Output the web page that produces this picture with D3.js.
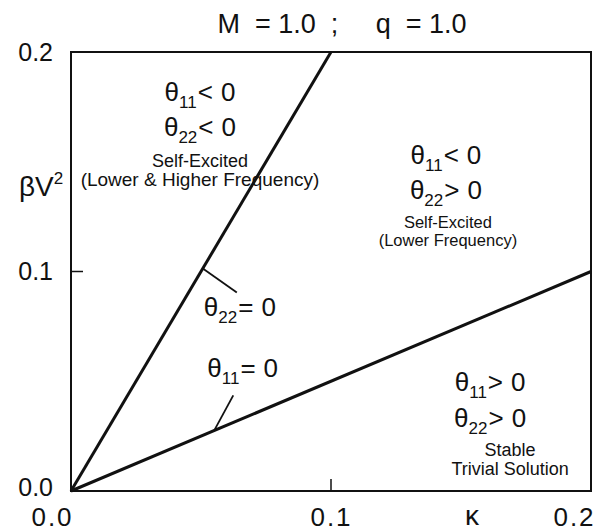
<!DOCTYPE html>
<html>
<head>
<meta charset="utf-8">
<script src="https://cdn.jsdelivr.net/npm/d3@7"></script>
<style>
  html, body { margin: 0; padding: 0; background: #fff; }
  svg text { font-family: "Liberation Sans", Arial, Helvetica, sans-serif; fill: #111; }
</style>
</head>
<body>
<svg id="chart" width="612" height="531"></svg>
<script>
// Stability boundaries in the (kappa, beta V^2) plane
const kappaDomain = [0, 0.2];
const betaDomain = [0, 0.2];
const xTicks = [0.0, 0.1, 0.2];
const yTicks = [0.0, 0.1, 0.2];
const theta22Zero = [[0, 0], [0.1, 0.2]];   // theta_22 = 0
const theta11Zero = [[0, 0], [0.2, 0.1]];   // theta_11 = 0

// Region annotations, anchored in data units (kappa, betaV2) at the first line's baseline
const regionLeft = { at: [0.0496, 0.1777], lines: [["11", "<"], ["22", "<"]], gaps: [0, 35],
  notes: ["Self-Excited", "(Lower & Higher Frequency)"], noteGaps: [66, 85], noteSizes: [18, 19], noteShift: 0 };
const regionRight = { at: [0.1442, 0.1491], lines: [["11", "<"], ["22", ">"]], gaps: [0, 35],
  notes: ["Self-Excited", "(Lower Frequency)"], noteGaps: [64, 82], noteSizes: [16.5, 16.5], noteShift: 2 };
const regionLow = { at: [0.1612, 0.0455], lines: [["11", ">"], ["22", ">"]], gaps: [0, 36],
  notes: ["Stable", "Trivial Solution"], noteGaps: [65, 84], noteSizes: [18, 18], noteShift: 20 };

const svg = d3.select("#chart");
const margin = { left: 71, right: 21, top: 52, bottom: 40 };
const W = 612, H = 531;
const x = d3.scaleLinear().domain(kappaDomain).range([margin.left, W - margin.right]);
const y = d3.scaleLinear().domain(betaDomain).range([H - margin.bottom, margin.top]);

const g = svg.append("g");

// frame
g.append("rect")
  .attr("x", x(0)).attr("y", y(0.2))
  .attr("width", x(0.2) - x(0)).attr("height", y(0) - y(0.2))
  .attr("fill", "none").attr("stroke", "#111").attr("stroke-width", 2);

// axes (labels only; the frame carries the axis lines)
const xAxis = d3.axisBottom(x).tickValues(xTicks).tickSize(0)
  .tickFormat(d3.format(".1f"));
const yAxis = d3.axisLeft(y).tickValues(yTicks).tickSize(0).tickPadding(18)
  .tickFormat(d3.format(".1f"));
const gx = g.append("g").attr("transform", `translate(0,${y(0)})`).call(xAxis);
const gy = g.append("g").attr("transform", `translate(${x(0)},0)`).call(yAxis);
[gx, gy].forEach(a => {
  a.select(".domain").remove();
  a.selectAll("text").attr("fill", "#111");
});
gy.selectAll("text").style("font-size", "25px").attr("dy", d => d === 0 ? "0.18em" : "0.32em");
// bottom labels sit slightly left of their ticks at the ends of the range
const xShift = { 0: -19, 0.1: 0, 0.2: -17 };
gx.selectAll("text").style("font-size", "26px").style("letter-spacing", "2px")
  .attr("y", 35).attr("dy", 0)
  .attr("dx", d => xShift[d]);

// inward ticks at the mid values
g.append("line").attr("x1", x(0.1)).attr("x2", x(0.1))
  .attr("y1", y(0)).attr("y2", y(0) - 12).attr("stroke", "#111").attr("stroke-width", 1.5);
g.append("line").attr("x1", x(0)).attr("x2", x(0) + 12)
  .attr("y1", y(0.1)).attr("y2", y(0.1)).attr("stroke", "#111").attr("stroke-width", 1.5);

// boundary lines
const line = d3.line().x(d => x(d[0])).y(d => y(d[1]));
[theta22Zero, theta11Zero].forEach(d => {
  g.append("path").attr("d", line(d)).attr("fill", "none")
    .attr("stroke", "#111").attr("stroke-width", 3);
});

// title and axis names
svg.append("text").attr("x", 342).attr("y", 33).attr("text-anchor", "middle")
  .style("font-size", "27px").attr("xml:space", "preserve")
  .text("M  = 1.0  ;     q  = 1.0");

const yl = svg.append("text").attr("x", 19).attr("y", 196).style("font-size", "28px");
yl.append("tspan").text("βV");
yl.append("tspan").attr("dy", "-12").style("font-size", "17px").text("2");

svg.append("text").attr("x", 472).attr("y", 525).attr("text-anchor", "middle")
  .style("font-size", "28px").text("κ");

// theta label: θ, subscript, relation sign, value
function thetaLabel(px, py, sub, rel, anchor) {
  const t = svg.append("text").attr("x", px).attr("y", py)
    .attr("text-anchor", anchor || "start").style("font-size", "26px");
  t.append("tspan").text("θ");
  t.append("tspan").attr("dy", 7).style("font-size", "17px").text(sub);
  t.append("tspan").attr("dy", -7).attr("dx", 1).text(rel);
  t.append("tspan").attr("dx", 8).text("0");
  return t;
}

function region(r) {
  const cx = x(r.at[0]);
  const cy = y(r.at[1]);
  r.lines.forEach((l, i) => thetaLabel(cx, cy + r.gaps[i], l[0], l[1], "middle"));
  r.notes.forEach((n, i) => {
    svg.append("text").attr("x", cx + r.noteShift).attr("y", cy + r.noteGaps[i])
      .attr("text-anchor", "middle").style("font-size", r.noteSizes[i] + "px").text(n);
  });
}
region(regionLeft);
region(regionRight);
region(regionLow);

// boundary labels with leader lines
const lab22 = [0.0507, 0.1014];
g.append("line").attr("x1", x(lab22[0])).attr("y1", y(lab22[1]))
  .attr("x2", x(lab22[0]) + 34).attr("y2", y(lab22[1]) + 24)
  .attr("stroke", "#111").attr("stroke-width", 1.8);
thetaLabel(x(lab22[0]) + 1, y(lab22[1]) + 48, "22", "=");

const lab11 = [0.0551, 0.0276];
g.append("line").attr("x1", x(lab11[0])).attr("y1", y(lab11[1]))
  .attr("x2", x(lab11[0]) + 19).attr("y2", y(lab11[1]) - 35)
  .attr("stroke", "#111").attr("stroke-width", 1.8);
thetaLabel(x(lab11[0]) - 7, y(lab11[1]) - 53, "11", "=");
</script>
</body>
</html>
